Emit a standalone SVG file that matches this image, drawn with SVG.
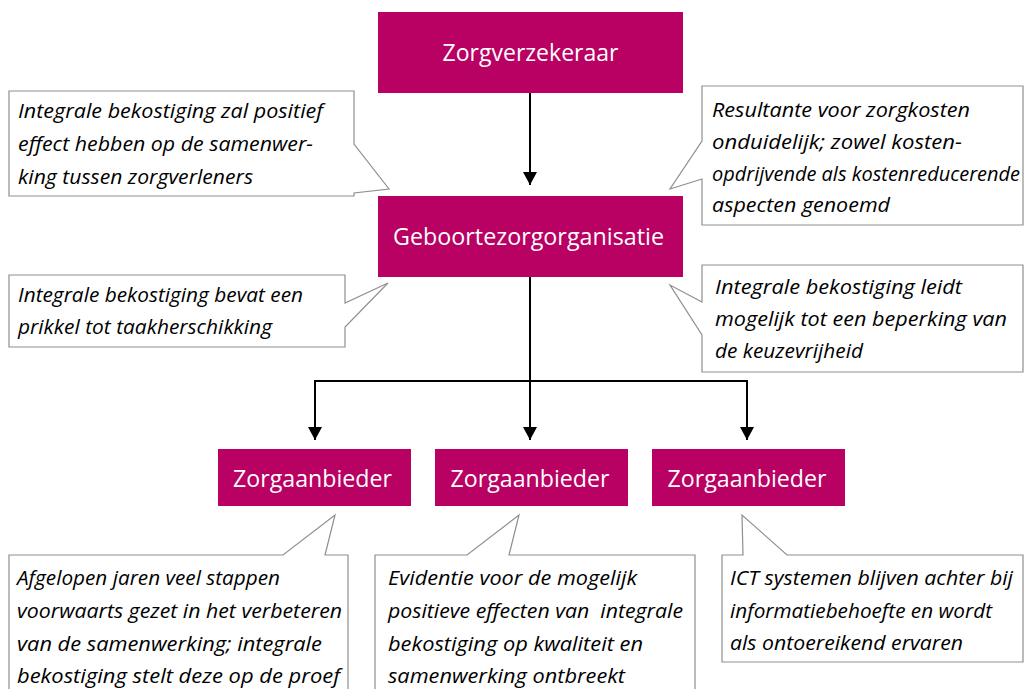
<svg xmlns="http://www.w3.org/2000/svg" width="1026" height="689" viewBox="0 0 1026 689">
<style>
.box{fill:#B90063}
.bt{font-family:"Open Sans","Noto Sans",sans-serif;font-size:23px;fill:#ffffff;text-anchor:middle}
.co{fill:#ffffff;stroke:#8f8f8f;stroke-width:1.2}
.ct{font-family:"Open Sans","Noto Sans",sans-serif;font-style:italic;font-size:20px;fill:#000000}
.con{fill:none;stroke:#000000;stroke-width:2}
</style>
<defs>
<marker id="ah" markerUnits="userSpaceOnUse" markerWidth="14" markerHeight="16" viewBox="0 0 14 16" refX="13" refY="8" orient="auto-start-reverse">
<path d="M0,1 L13,8 L0,15 Z" fill="#000000"/>
</marker>
</defs>
<rect width="1026" height="689" fill="#ffffff"/>
<g id="connectors">
<line class="con" x1="530" y1="93" x2="530" y2="185" marker-end="url(#ah)"/>
<line class="con" x1="530" y1="277" x2="530" y2="440" marker-end="url(#ah)"/>
<path class="con" d="M315,440 V381 H747 V440" marker-start="url(#ah)" marker-end="url(#ah)"/>
</g>
<g id="zorgverzekeraar">
<rect class="box" x="378" y="12" width="305" height="81"/>
<text class="bt" x="530.5" y="61" textLength="176" lengthAdjust="spacingAndGlyphs">Zorgverzekeraar</text>
</g>
<g id="geboortezorgorganisatie">
<rect class="box" x="378" y="196" width="305" height="81"/>
<text class="bt" x="528.5" y="245" textLength="271" lengthAdjust="spacingAndGlyphs">Geboortezorgorganisatie</text>
</g>
<g id="zorgaanbieder1">
<rect class="box" x="218" y="449" width="193" height="57"/>
<text class="bt" x="312.5" y="487" textLength="159" lengthAdjust="spacingAndGlyphs">Zorgaanbieder</text>
</g>
<g id="zorgaanbieder2">
<rect class="box" x="435" y="449" width="193" height="57"/>
<text class="bt" x="530" y="487" textLength="159" lengthAdjust="spacingAndGlyphs">Zorgaanbieder</text>
</g>
<g id="zorgaanbieder3">
<rect class="box" x="652" y="449" width="193" height="57"/>
<text class="bt" x="747" y="487" textLength="159" lengthAdjust="spacingAndGlyphs">Zorgaanbieder</text>
</g>
<g id="callout1">
<path class="co" d="M9,91 H354 V144 L389,189 L354,193 V196 H9 Z"/>
<text class="ct" x="18" y="118" textLength="305" lengthAdjust="spacingAndGlyphs">Integrale bekostiging zal positief</text>
<text class="ct" x="18" y="151" textLength="295" lengthAdjust="spacingAndGlyphs">effect hebben op de samenwer-</text>
<text class="ct" x="18" y="184" textLength="235" lengthAdjust="spacingAndGlyphs">king tussen zorgverleners</text>
</g>
<g id="callout2">
<path class="co" d="M702,86 H1023 V225 H702 V179 L670,189 L702,141 Z"/>
<text class="ct" x="712" y="117" textLength="258" lengthAdjust="spacingAndGlyphs">Resultante voor zorgkosten</text>
<text class="ct" x="712" y="149" textLength="250" lengthAdjust="spacingAndGlyphs">onduidelijk; zowel kosten-</text>
<text class="ct" x="712" y="181" textLength="308" lengthAdjust="spacingAndGlyphs">opdrijvende als kostenreducerende</text>
<text class="ct" x="712" y="212" textLength="178" lengthAdjust="spacingAndGlyphs">aspecten genoemd</text>
</g>
<g id="callout3">
<path class="co" d="M9,275 H345 V303 L388,283 L345,327 V347 H9 Z"/>
<text class="ct" x="18" y="302" textLength="285" lengthAdjust="spacingAndGlyphs">Integrale bekostiging bevat een</text>
<text class="ct" x="18" y="334" textLength="254" lengthAdjust="spacingAndGlyphs">prikkel tot taakherschikking</text>
</g>
<g id="callout4">
<path class="co" d="M702,265 H1023 V372 H702 V335 L670,285 L702,302 Z"/>
<text class="ct" x="715" y="294" textLength="247" lengthAdjust="spacingAndGlyphs">Integrale bekostiging leidt</text>
<text class="ct" x="715" y="326" textLength="292" lengthAdjust="spacingAndGlyphs">mogelijk tot een beperking van</text>
<text class="ct" x="715" y="358" textLength="148" lengthAdjust="spacingAndGlyphs">de keuzevrijheid</text>
</g>
<g id="callout5">
<path class="co" d="M9,555 H283 L335,515 L325,555 H348 V700 H9 Z"/>
<text class="ct" x="17" y="585" textLength="263" lengthAdjust="spacingAndGlyphs">Afgelopen jaren veel stappen</text>
<text class="ct" x="17" y="618" textLength="325" lengthAdjust="spacingAndGlyphs">voorwaarts gezet in het verbeteren</text>
<text class="ct" x="17" y="651" textLength="305" lengthAdjust="spacingAndGlyphs">van de samenwerking; integrale</text>
<text class="ct" x="17" y="683" textLength="323" lengthAdjust="spacingAndGlyphs">bekostiging stelt deze op de proef</text>
</g>
<g id="callout6">
<path class="co" d="M375,555 H467 L519,515 L509,555 H695 V700 H375 Z"/>
<text class="ct" x="388" y="585" textLength="249" lengthAdjust="spacingAndGlyphs">Evidentie voor de mogelijk</text>
<text class="ct" x="388" y="618" textLength="295" lengthAdjust="spacingAndGlyphs" xml:space="preserve">positieve effecten van  integrale</text>
<text class="ct" x="388" y="651" textLength="255" lengthAdjust="spacingAndGlyphs">bekostiging op kwaliteit en</text>
<text class="ct" x="388" y="683" textLength="237" lengthAdjust="spacingAndGlyphs">samenwerking ontbreekt</text>
</g>
<g id="callout7">
<path class="co" d="M722,555 H743 L742,515 L787,555 H1023 V662 H722 Z"/>
<text class="ct" x="730" y="585" textLength="283" lengthAdjust="spacingAndGlyphs">ICT systemen blijven achter bij</text>
<text class="ct" x="730" y="618" textLength="262" lengthAdjust="spacingAndGlyphs">informatiebehoefte en wordt</text>
<text class="ct" x="730" y="650" textLength="233" lengthAdjust="spacingAndGlyphs">als ontoereikend ervaren</text>
</g>
</svg>
